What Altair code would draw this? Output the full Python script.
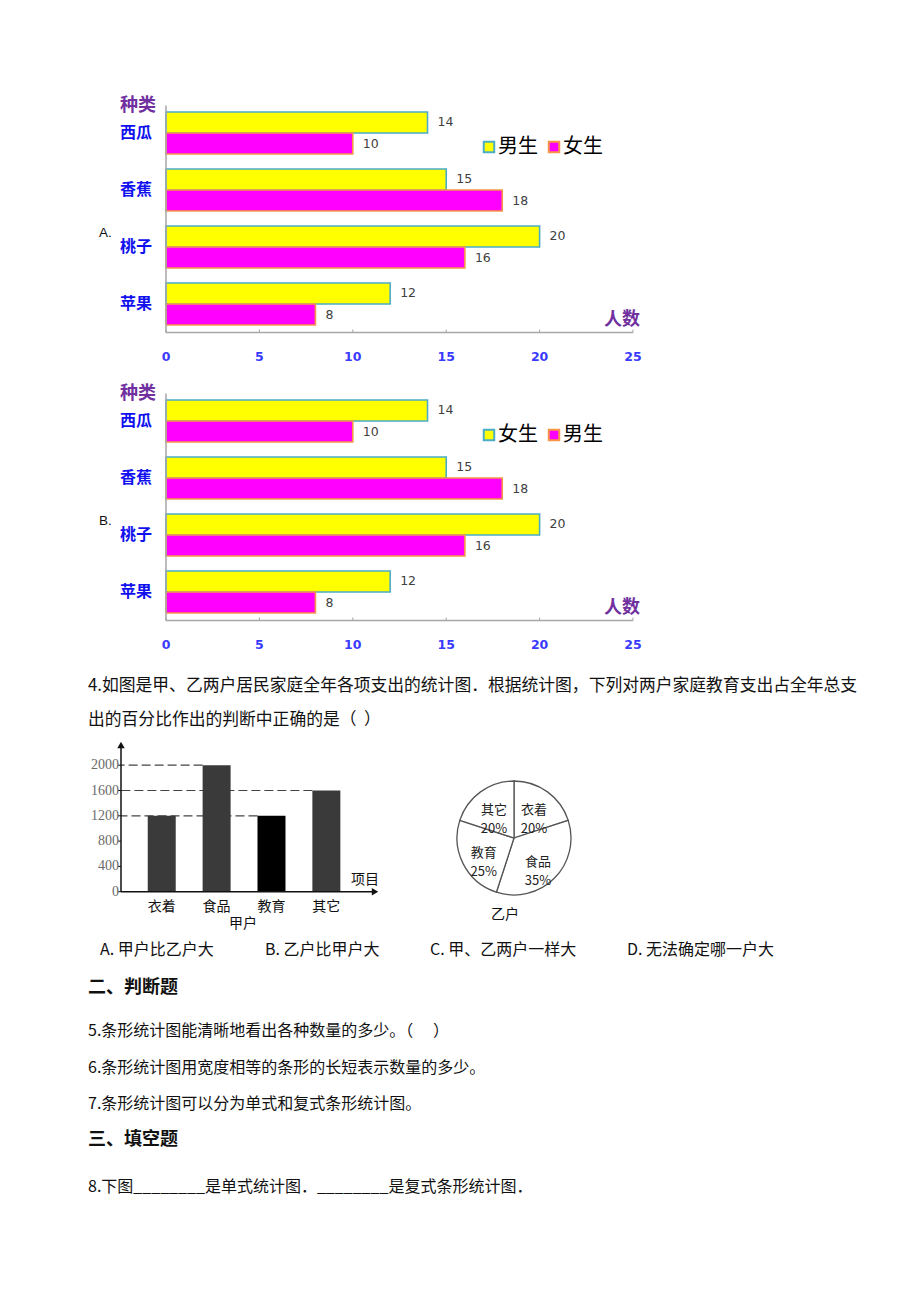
import altair as alt
import pandas as pd

# ---------------- data ----------------
fruits = ["西瓜", "香蕉", "桃子", "苹果"]
boys = [14, 15, 20, 12]
girls = [10, 18, 16, 8]
genders = ["男生", "女生"]
x_ticks = [0, 5, 10, 15, 20, 25]
legend_A = ["男生", "女生"]
legend_B = ["女生", "男生"]

items = ["衣着", "食品", "教育", "其它"]
jia_spend = [1200, 2000, 1200, 1600]
jia_ticks = [0, 400, 800, 1200, 1600, 2000]
yi_pct = [20, 35, 25, 20]

FONT = "Noto Sans CJK SC"


def px(v):
    return v - 8


def py(v):
    return v - 8


def label(s, x, y, size=16, weight="normal", color="#111111", align="left", font=FONT):
    return alt.Chart(pd.DataFrame({"a": [0]})).mark_text(
        text=s, align=align, baseline="middle", font=font, fontSize=size,
        fontWeight=weight, color=color
    ).encode(x=alt.value(px(x)), y=alt.value(py(y)))


fruit_df = pd.DataFrame({
    "fruit": fruits * 2,
    "gender": [genders[0]] * len(fruits) + [genders[1]] * len(fruits),
    "value": boys + girls,
})
tick_df = pd.DataFrame({"t": x_ticks})
ends_df = pd.DataFrame({"a": [x_ticks[0]], "b": [x_ticks[-1]]})
fruit_names = pd.DataFrame({"fruit": fruits})


def fruit_chart(dy, legend_labels, letter):
    xs = alt.Scale(domain=[0, 25], range=[px(166), px(633)])
    ys = alt.Scale(domain=fruits, range=[py(104.5 + dy), py(332.5 + dy)],
                   paddingInner=0.263, paddingOuter=0.1315)
    yo = alt.Scale(domain=genders, paddingInner=0, paddingOuter=0)
    yo_txt = alt.Scale(type="point", domain=genders, padding=0.5)
    fill = alt.Scale(domain=genders, range=["#ffff00", "#ff00ff"])
    strk = alt.Scale(domain=genders, range=["#4bacc6", "#f79646"])
    L = []
    L.append(alt.Chart(fruit_df).mark_bar(strokeWidth=1.6).encode(
        x=alt.X("value:Q", scale=xs, axis=None),
        y=alt.Y("fruit:N", scale=ys, axis=None),
        yOffset=alt.YOffset("gender:N", scale=yo),
        color=alt.Color("gender:N", scale=fill, legend=None),
        stroke=alt.Stroke("gender:N", scale=strk, legend=None),
    ))
    L.append(alt.Chart(fruit_df).mark_text(
        align="left", baseline="middle", dx=10, font="DejaVu Sans",
        fontSize=12.5, color="#404040").encode(
        x=alt.X("value:Q", scale=xs, axis=None),
        y=alt.Y("fruit:N", scale=ys, axis=None),
        yOffset=alt.YOffset("gender:N", scale=yo_txt),
        text="value:Q",
    ))
    # axes
    L.append(alt.Chart(ends_df).mark_rule(color="#a6a6a6", strokeWidth=1.5).encode(
        x=alt.X("a:Q", scale=xs, axis=None), x2="b:Q",
        y=alt.value(py(332.5 + dy))))
    L.append(alt.Chart(ends_df).mark_rule(color="#a6a6a6", strokeWidth=1.5).encode(
        x=alt.X("a:Q", scale=xs, axis=None),
        y=alt.value(py(105.5 + dy)), y2=alt.value(py(332.5 + dy))))
    L.append(alt.Chart(tick_df).mark_rule(color="#a6a6a6", strokeWidth=1).encode(
        x=alt.X("t:Q", scale=xs, axis=None),
        y=alt.value(py(329.5 + dy)), y2=alt.value(py(332.5 + dy))))
    L.append(alt.Chart(tick_df).mark_text(
        font="DejaVu Sans", fontSize=12.5, fontWeight="bold", color="#3a3aff",
        baseline="middle").encode(
        x=alt.X("t:Q", scale=xs, axis=None), y=alt.value(py(357 + dy)),
        text="t:Q"))
    L.append(alt.Chart(fruit_names).mark_text(
        font=FONT, fontSize=16, fontWeight="bold", color="#1010ee",
        align="right", baseline="middle").encode(
        y=alt.Y("fruit:N", scale=ys, axis=None), x=alt.value(px(152)),
        text="fruit:N"))
    L.append(label("种类", 138, 106 + dy, size=18, weight="bold", color="#7030a0", align="center"))
    L.append(label("人数", 622, 320 + dy, size=18, weight="bold", color="#7030a0", align="center"))
    L.append(label(letter, 99, 233 + dy, size=13.5, color="#111111", font="Liberation Sans"))
    # legend
    box_fill = ["#ffff00", "#ff00ff"]
    box_strk = ["#4bacc6", "#f79646"]
    box_x = [489, 554]
    for i, lab in enumerate(legend_labels):
        L.append(alt.Chart(pd.DataFrame({"a": [0]})).mark_point(
            shape="square", filled=True, size=110, fill=box_fill[i],
            stroke=box_strk[i], strokeWidth=2, opacity=1).encode(
            x=alt.value(px(box_x[i])), y=alt.value(py(147 + dy))))
        L.append(label(lab, box_x[i] + 9, 147 + dy, size=20, color="#000000"))
    return L


layers = []
layers += fruit_chart(0, legend_A, "A.")
layers += fruit_chart(288, legend_B, "B.")

# ---------------- question 4 text ----------------
layers.append(label("4.如图是甲、乙两户居民家庭全年各项支出的统计图．根据统计图，下列对两户家庭教育支出占全年总支", 88, 686, size=16.8))
layers.append(label("出的百分比作出的判断中正确的是（\u00a0\u00a0）", 88, 720, size=16.8))

# ---------------- 甲户 bar chart ----------------
jia_df = pd.DataFrame({"item": items, "value": jia_spend})
jt_df = pd.DataFrame({"t": jia_ticks})
bx = alt.Scale(domain=items, range=[px(134.3), px(353.8)], paddingInner=0.49, paddingOuter=0.245)
by = alt.Scale(domain=[0, 2000], range=[py(891.7), py(765.2)])
bar_col = alt.Scale(domain=items, range=["#3a3a3a", "#3a3a3a", "#000000", "#3a3a3a"])

layers.append(alt.Chart(jia_df).transform_filter(alt.datum.item != items[0]).mark_rule(
    color="#444444", strokeWidth=1.2, strokeDash=[9, 4]).encode(
    x=alt.X("item:N", scale=bx, axis=None, bandPosition=0),
    x2=alt.value(px(121)),
    y=alt.Y("value:Q", scale=by, axis=None)))
layers.append(alt.Chart(jia_df).mark_bar().encode(
    x=alt.X("item:N", scale=bx, axis=None),
    y=alt.Y("value:Q", scale=by, axis=None),
    color=alt.Color("item:N", scale=bar_col, legend=None)))
layers.append(alt.Chart(pd.DataFrame({"a": [0]})).mark_rule(color="#111111", strokeWidth=1.5).encode(
    x=alt.value(px(121)), y=alt.value(py(746)), y2=alt.value(py(892))))
layers.append(alt.Chart(pd.DataFrame({"a": [0]})).mark_rule(color="#111111", strokeWidth=1.5).encode(
    x=alt.value(px(121)), x2=alt.value(px(372)),
    y=alt.Y("a:Q", scale=by, axis=None)))
layers.append(alt.Chart(pd.DataFrame({"a": [0]})).mark_point(
    shape="triangle-up", filled=True, size=55, color="#111111", opacity=1).encode(
    x=alt.value(px(121)), y=alt.value(py(745))))
layers.append(alt.Chart(pd.DataFrame({"a": [0]})).mark_point(
    shape="triangle-right", filled=True, size=55, color="#111111", opacity=1).encode(
    x=alt.value(px(375)), y=alt.value(py(891.7))))
layers.append(alt.Chart(jt_df).mark_rule(color="#111111", strokeWidth=1).encode(
    x=alt.value(px(118)), x2=alt.value(px(121)),
    y=alt.Y("t:Q", scale=by, axis=None)))
layers.append(alt.Chart(jt_df).mark_text(
    font="Liberation Serif", fontSize=14, color="#6a6a6a", align="right",
    baseline="middle").encode(
    x=alt.value(px(119)), y=alt.Y("t:Q", scale=by, axis=None), text="t:Q"))
layers.append(alt.Chart(jia_df).mark_text(
    font=FONT, fontSize=14, color="#111111", baseline="middle").encode(
    x=alt.X("item:N", scale=bx, axis=None), y=alt.value(py(907)), text="item:N"))
layers.append(label("项目", 365, 880, size=14, align="center"))
layers.append(label("甲户", 243, 924, size=14, align="center"))

# ---------------- 乙户 pie ----------------
pie_df = pd.DataFrame({
    "item": items, "pct": yi_pct, "idx": list(range(len(items))),
})
pie_df["lab"] = pie_df["item"] + "\n" + pie_df["pct"].astype(str) + "%"
layers.append(alt.Chart(pie_df).mark_arc(
    outerRadius=57, fill="white", stroke="#555555", strokeWidth=1.3).encode(
    theta=alt.Theta("pct:Q", stack=True),
    order=alt.Order("idx:Q"),
    x=alt.value(px(514)), y=alt.value(py(838))))
layers.append(alt.Chart(pie_df).mark_text(
    radius=34, font=FONT, fontSize=13, color="#222222", lineBreak="\n",
    lineHeight=19, baseline="middle").encode(
    theta=alt.Theta("pct:Q", stack=True),
    order=alt.Order("idx:Q"),
    text="lab:N",
    x=alt.value(px(514)), y=alt.value(py(838))))
layers.append(label("乙户", 505, 915, size=14, align="center"))

# ---------------- options & remaining questions ----------------
opts = ["A. 甲户比乙户大", "B. 乙户比甲户大", "C. 甲、乙两户一样大", "D. 无法确定哪一户大"]
opt_x = [100, 265, 430, 627]
for s, x in zip(opts, opt_x):
    layers.append(label(s, x, 950, size=16))

layers.append(label("二、判断题", 88, 988, size=18, weight="bold"))
layers.append(label("5.条形统计图能清晰地看出各种数量的多少。（\u3000\u00a0）", 88, 1031, size=16))
layers.append(label("6.条形统计图用宽度相等的条形的长短表示数量的多少。", 88, 1068, size=16))
layers.append(label("7.条形统计图可以分为单式和复式条形统计图。", 88, 1104, size=16))
layers.append(label("三、填空题", 88, 1140, size=18, weight="bold"))
layers.append(label("8.下图________是单式统计图．________是复式条形统计图．", 88, 1187, size=16))

chart = alt.layer(*layers).properties(
    width=904, height=1286, padding=0,
    autosize=alt.AutoSizeParams(type="none"),
    background="white",
).resolve_scale(
    x="independent", y="independent", color="independent",
    stroke="independent", theta="independent", yOffset="independent",
).configure_view(strokeWidth=0)

chart.save("out.html", embed_options={"renderer": "svg", "actions": False})
